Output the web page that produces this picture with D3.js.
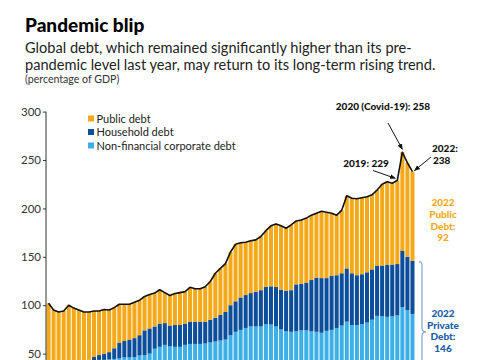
<!DOCTYPE html>
<html>
<head>
<meta charset="utf-8">
<script src="https://cdn.jsdelivr.net/npm/d3@7"></script>
<style>
  html, body { margin: 0; padding: 0; background: #fff; }
  svg { display: block; font-family: Lato, "Open Sans", sans-serif; }
</style>
</head>
<body>
<svg id="chart" width="485" height="360"></svg>
<script>
// ---- Data (percentage of GDP) ----
const years = d3.range(1950, 2023);
const totalDebt = [102, 95, 93, 94, 100, 97, 95, 93, 93, 94,
  94, 95.5, 95, 97.5, 101, 101, 101, 103, 105, 109,
  111, 112.5, 116, 113, 110, 112, 113, 114, 118.5, 117,
  117, 119, 124.5, 133, 138, 143, 155, 163, 164.5, 165,
  166.5, 167.5, 171, 177, 182, 184, 182, 179.5, 183, 187,
  188, 190, 193, 195, 197, 196, 195, 193, 198, 213,
  210.5, 210, 211, 212, 214, 219, 225, 227.5, 226, 229,
  258, 247, 238];
const privateDebt = [37, 36, 36, 37, 38, 39, 40, 41, 43.5, 46.5,
  48.5, 50, 51.5, 55.5, 61, 63, 64.5, 66, 69, 74,
  76, 78, 81, 81.5, 79, 79.5, 79.5, 81, 83, 83,
  83, 83, 85, 87, 90, 93, 100, 104, 108, 110.5,
  112.5, 114, 115.5, 119, 119.5, 119, 116, 115, 115.5, 121.5,
  122, 123, 126, 128.5, 128, 128, 130.5, 131, 133, 138,
  133, 131, 132, 134, 137, 140.5, 141, 141.5, 142, 142.5,
  156, 150, 146];
const corporateDebt = [30, 30, 31, 32, 33, 34, 36, 38, 40, 42,
  43.5, 43.5, 44, 44.5, 45, 46, 46, 46.5, 48, 48.5,
  50, 55, 57, 59, 57.5, 57, 57, 59, 60, 60,
  60, 60.5, 61.5, 62.5, 63.5, 64.5, 69, 72.5, 74.5, 76.5,
  78, 78, 78, 80.5, 80, 78, 75, 73, 72.5, 73,
  74, 74, 73, 72.5, 71.5, 73.5, 74.5, 76.5, 79, 83,
  79.5, 79.5, 80.5, 82, 85, 89, 88.5, 88, 88.5, 89.5,
  98, 95, 91];
const yTicks = [50, 100, 150, 200, 250, 300];
const seriesNames = ["Public debt", "Household debt", "Non-financial corporate debt"];
const seriesColors = ["#F4A91A", "#0C4E9B", "#3CB0E6"];

// derived rows
const rows = years.map((yr, i) => ({
  year: yr,
  corporate: corporateDebt[i],
  household: privateDebt[i] - corporateDebt[i],
  public: totalDebt[i] - privateDebt[i],
  total: totalDebt[i]
}));

const svg = d3.select("#chart");

// ---- Scales ----
const x = d3.scaleBand().domain(years).range([46, 415]).paddingInner(0.2).paddingOuter(0.1);
const y = d3.scaleLinear().domain([0, 300]).range([402, 111.6]);

// ---- Stacked bars ----
const stack = d3.stack().keys(["corporate", "household", "public"]);
const layers = stack(rows);
const layerColor = { corporate: seriesColors[2], household: seriesColors[1], public: seriesColors[0] };

svg.append("g").selectAll("g").data(layers).join("g")
  .attr("fill", d => layerColor[d.key])
  .selectAll("rect").data(d => d).join("rect")
  .attr("x", d => x(d.data.year))
  .attr("width", x.bandwidth())
  .attr("y", d => y(d[1]))
  .attr("height", d => y(d[0]) - y(d[1]));

// ---- Total line ----
const line = d3.line()
  .x(d => x(d.year) + x.bandwidth() / 2)
  .y(d => y(d.total));
svg.append("path").datum(rows)
  .attr("d", line)
  .attr("fill", "none")
  .attr("stroke", "#111")
  .attr("stroke-width", 1.6)
  .attr("stroke-linejoin", "round");

// ---- Y axis ----
const yAxis = d3.axisLeft(y).tickValues(yTicks).tickSize(3).tickPadding(2);
const gy = svg.append("g").attr("transform", "translate(46,0)").call(yAxis);
gy.select(".domain").attr("d", `M0,${y(300)}V${y(0)}`).attr("stroke", "#333");
gy.selectAll(".tick line").attr("stroke", "#333");
gy.selectAll(".tick text").attr("fill", "#333").style("font-size", "11.5px")
  .style("font-family", "Lato, sans-serif");

// ---- Titles ----
svg.append("text").attr("x", 25).attr("y", 32)
  .style("font-size", "19px").style("font-weight", 900).attr("fill", "#000")
  .text("Pandemic blip");
svg.append("text").attr("x", 25).attr("y", 53)
  .style("font-size", "14.6px").attr("fill", "#222")
  .text("Global debt, which remained significantly higher than its pre-");
svg.append("text").attr("x", 25).attr("y", 70)
  .style("font-size", "14.6px").attr("fill", "#222")
  .text("pandemic level last year, may return to its long-term rising trend.");
svg.append("text").attr("x", 25).attr("y", 83)
  .style("font-size", "10.6px").attr("fill", "#333")
  .text("(percentage of GDP)");

// ---- Legend ----
const legend = svg.append("g");
seriesNames.forEach((name, i) => {
  const ly = 119 + i * 13.5;
  legend.append("rect").attr("x", 88).attr("y", ly - 3.5).attr("width", 6).attr("height", 6)
    .attr("fill", seriesColors[i]);
  legend.append("text").attr("x", 96.5).attr("y", ly + 3.5)
    .style("font-size", "11px").attr("fill", "#222").text(name);
});

// ---- Annotations ----
const defs = svg.append("defs");
defs.append("marker").attr("id", "arr").attr("viewBox", "0 0 10 10")
  .attr("refX", 9).attr("refY", 5).attr("markerWidth", 6).attr("markerHeight", 6)
  .attr("orient", "auto")
  .append("path").attr("d", "M0,1L10,5L0,9z").attr("fill", "#111");

function bold(tx, ty, str, anchor, color) {
  svg.append("text").attr("x", tx).attr("y", ty).attr("text-anchor", anchor || "start")
    .style("font-size", "10px").style("font-weight", 900).attr("fill", color || "#111").text(str);
}
function arrow(x1, y1, x2, y2) {
  svg.append("line").attr("x1", x1).attr("y1", y1).attr("x2", x2).attr("y2", y2)
    .attr("stroke", "#111").attr("stroke-width", 1).attr("marker-end", "url(#arr)");
}
const cx = i => x(years[i]) + x.bandwidth() / 2;
const i2019 = years.indexOf(2019), i2020 = years.indexOf(2020), i2022 = years.indexOf(2022);

bold(383, 110, "2020 (Covid-19): " + totalDebt[i2020], "middle");
arrow(388, 123, cx(i2020), y(totalDebt[i2020]) - 3);

bold(366, 167, "2019: " + totalDebt[i2019], "middle");
arrow(373, 170.5, cx(i2019) - 2, y(totalDebt[i2019]) - 2);

bold(432, 152, "2022:", "start");
bold(433, 164, String(totalDebt[i2022]), "start");
arrow(431, 157, cx(i2022) + 2, y(totalDebt[i2022]) - 1);

const pubCol = "#F4A91A", privCol = "#1A5CA8";
["2022", "Public", "Debt:", String(totalDebt[i2022] - privateDebt[i2022])].forEach((s, k) =>
  bold(443, 206 + k * 11.8, s, "middle", pubCol));
["2022", "Private", "Debt:", String(privateDebt[i2022])].forEach((s, k) =>
  bold(443, 317 + k * 11.7, s, "middle", privCol));

// brace for private debt
const bTop = y(privateDebt[i2022]) + 1, bBot = y(0), bMid = (bTop + bBot) / 2, bx = 419;
svg.append("path")
  .attr("d", `M${bx},${bTop} Q${bx + 3},${bTop} ${bx + 3},${bTop + 4} L${bx + 3},${bMid - 4} Q${bx + 3},${bMid} ${bx + 7},${bMid} Q${bx + 3},${bMid} ${bx + 3},${bMid + 4} L${bx + 3},${bBot - 4} Q${bx + 3},${bBot} ${bx},${bBot}`)
  .attr("fill", "none").attr("stroke", "#7FA7D0").attr("stroke-width", 1.2);
</script>
</body>
</html>
